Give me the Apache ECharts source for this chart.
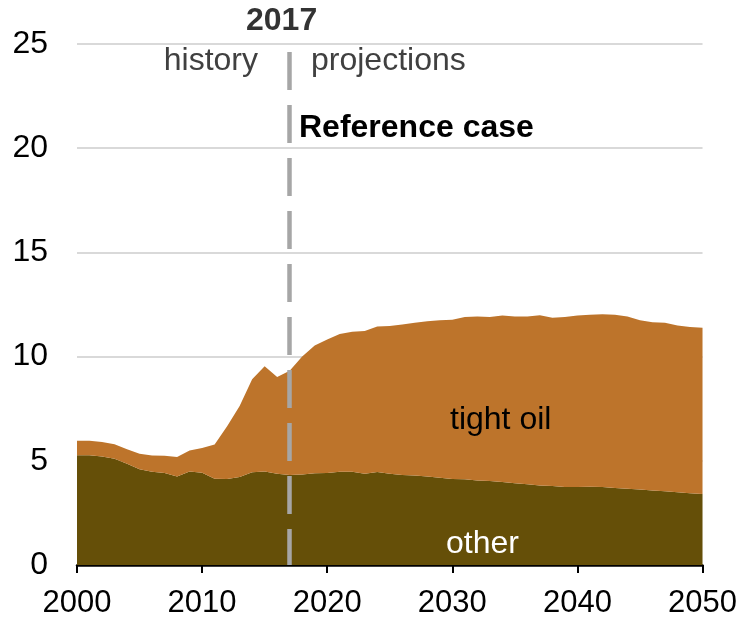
<!DOCTYPE html>
<html>
<head>
<meta charset="utf-8">
<script src="https://cdn.jsdelivr.net/npm/echarts@6/dist/echarts.min.js"></script>
<style>
  html, body { margin: 0; padding: 0; background: #fff; }
  #chart { width: 740px; height: 619px; }
</style>
</head>
<body>
<div id="chart"></div>
<script>
// years 2000..2050
const years = [];
for (let y = 2000; y <= 2050; y++) years.push(String(y));

// other (million barrels per day)
const other = [
  5.27, 5.27, 5.21, 5.10, 4.86, 4.60, 4.48, 4.41, 4.25, 4.49,
  4.43, 4.14, 4.13, 4.22, 4.45, 4.49, 4.38, 4.32, 4.34, 4.40,
  4.41, 4.48, 4.48, 4.38, 4.46, 4.38, 4.32, 4.30, 4.25, 4.19,
  4.13, 4.11, 4.06, 4.03, 3.98, 3.92, 3.87, 3.82, 3.79, 3.74,
  3.74, 3.76, 3.74, 3.70, 3.66, 3.62, 3.57, 3.54, 3.49, 3.44,
  3.41
];

// tight oil
const tightOil = [
  0.69, 0.69, 0.69, 0.70, 0.70, 0.74, 0.78, 0.83, 0.93, 1.01,
  1.19, 1.64, 2.53, 3.41, 4.46, 5.05, 4.64, 5.00, 5.66, 6.13,
  6.41, 6.61, 6.71, 6.85, 6.98, 7.09, 7.22, 7.33, 7.45, 7.55,
  7.64, 7.79, 7.86, 7.87, 7.99, 8.01, 8.06, 8.16, 8.08, 8.16,
  8.23, 8.25, 8.29, 8.31, 8.27, 8.12, 8.08, 8.08, 8.00, 7.98,
  7.97
];

const FONT = 'Liberation Sans, Arial, sans-serif';

const chart = echarts.init(document.getElementById('chart'));

const option = {
  animation: false,
  grid: { left: 77, right: 37, top: 44, bottom: 52 },
  xAxis: {
    type: 'category',
    data: years,
    boundaryGap: false,
    axisLine: { show: true, lineStyle: { color: '#000', width: 2.5 } },
    axisTick: { show: true, interval: 9, length: 8, lineStyle: { color: '#000', width: 2 } },
    axisLabel: { interval: 9, color: '#000', fontSize: 31, fontFamily: FONT, margin: 23 },
    splitLine: { show: false }
  },
  yAxis: {
    type: 'value',
    min: 0,
    max: 25,
    interval: 5,
    axisLine: { show: false },
    axisTick: { show: false },
    axisLabel: { color: '#000', fontSize: 32, fontFamily: FONT, margin: 29 },
    splitLine: { lineStyle: { color: '#d9d9d9', width: 2 } }
  },
  series: [
    {
      name: 'other',
      type: 'line',
      stack: 'total',
      symbol: 'none',
      lineStyle: { width: 0 },
      areaStyle: { color: '#654f08', opacity: 1 },
      data: other
    },
    {
      name: 'tight oil',
      type: 'line',
      stack: 'total',
      symbol: 'none',
      lineStyle: { width: 0 },
      areaStyle: { color: '#bd742b', opacity: 1 },
      data: tightOil
    },
    {
      name: 'divider',
      type: 'line',
      z: 10,
      data: [],
      markLine: {
        silent: true,
        symbol: ['none', 'none'],
        label: { show: false },
        lineStyle: { color: '#a6a6a6', width: 4.5, type: [38, 15], opacity: 1 },
        data: [[{ coord: ['2017', 24.62] }, { coord: ['2017', 0] }]]
      }
    }
  ],
  // annotations, drawn above the areas
  graphic: [
    { type: 'text', z: 100, left: 246, top: 5, style: { text: '2017', font: 'bold 32px ' + FONT, fill: '#333' } },
    { type: 'text', z: 100, right: 740 - 258, top: 45, style: { text: 'history', font: '32px ' + FONT, fill: '#404040' } },
    { type: 'text', z: 100, left: 311, top: 45, style: { text: 'projections', font: '32px ' + FONT, fill: '#404040' } },
    { type: 'text', z: 100, left: 299, top: 112, style: { text: 'Reference case', font: 'bold 32px ' + FONT, fill: '#000' } },
    { type: 'text', z: 100, left: 450, top: 404, style: { text: 'tight oil', font: '32px ' + FONT, fill: '#000' } },
    { type: 'text', z: 100, left: 446, top: 528, style: { text: 'other', font: '32px ' + FONT, fill: '#fff' } }
  ]
};

chart.setOption(option);
</script>
</body>
</html>
